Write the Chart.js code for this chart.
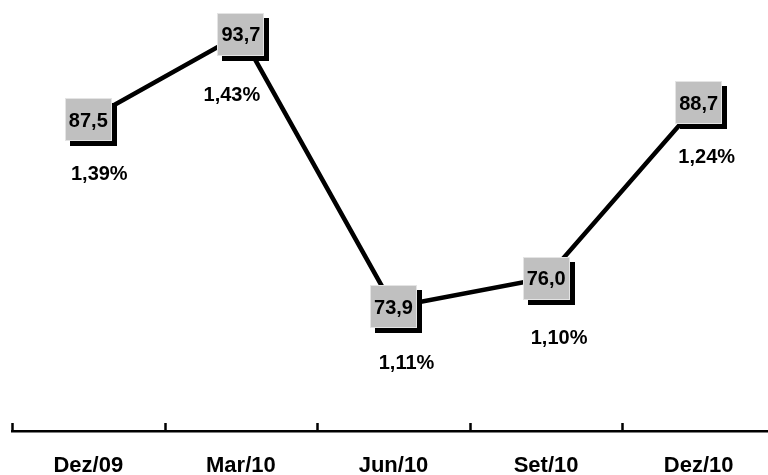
<!DOCTYPE html>
<html>
<head>
<meta charset="utf-8">
<script src="https://cdn.jsdelivr.net/npm/chart.js@4"></script>
<style>
  html, body { margin: 0; padding: 0; background: #fff; overflow: hidden; }
  #wrap { position: relative; width: 775px; height: 475px; }
</style>
</head>
<body>
<div id="wrap"><canvas id="c" width="775" height="475"></canvas></div>
<script>
// Quarterly series
const quarters = ['Dez/09', 'Mar/10', 'Jun/10', 'Set/10', 'Dez/10'];
const volumes = [87.5, 93.7, 73.9, 76.0, 88.7];
const ratios = [1.39, 1.43, 1.11, 1.10, 1.24];

const FONT = '"Liberation Sans", Arial, Helvetica, sans-serif';

const fmtValue = v => v.toFixed(1).replace('.', ',');
const fmtRatio = v => v.toFixed(2).replace('.', ',') + '%';

// Boxed value labels with a drop shadow, ratio text beneath each point,
// and short upward tick marks at the category boundaries.
const annotate = {
  id: 'annotate',
  afterDatasetsDraw(chart, args, opts) {
    const ctx = chart.ctx;
    const meta = chart.getDatasetMeta(0);
    const bw = opts.boxW, bh = opts.boxH, sh = opts.shadow;
    ctx.save();
    meta.data.forEach((pt, i) => {
      const x = pt.x, y = pt.y;
      const l = Math.round(x - bw / 2), t = Math.round(y - bh / 2);
      ctx.fillStyle = '#000';
      ctx.fillRect(l + sh, t + sh, bw, bh);
      ctx.fillStyle = '#c0c0c0';
      ctx.fillRect(l, t, bw, bh);
      ctx.strokeStyle = '#e4e4e4';
      ctx.lineWidth = 1;
      ctx.strokeRect(l + 0.5, t + 0.5, bw - 1, bh - 1);
      ctx.fillStyle = '#000';
      ctx.font = 'bold 20px ' + FONT;
      ctx.textAlign = 'center';
      ctx.textBaseline = 'middle';
      ctx.fillText(fmtValue(volumes[i]), x, y + 1.5);

      const n = opts.ratioNudge[i];
      ctx.fillText(fmtRatio(ratios[i]), x + n[0], y + n[1]);
    });
    ctx.restore();
  },
  afterDraw(chart) {
    const ctx = chart.ctx;
    const xs = chart.scales.x;
    const half = (xs.getPixelForValue(1) - xs.getPixelForValue(0)) / 2;
    const base = chart.chartArea.bottom;
    ctx.save();
    ctx.strokeStyle = '#000';
    ctx.lineWidth = 2.5;
    for (let i = 0; i <= quarters.length; i++) {
      const x = Math.round(xs.getPixelForValue(i) - half) + 0.5;
      ctx.beginPath();
      ctx.moveTo(x, base - 8);
      ctx.lineTo(x, base);
      ctx.stroke();
    }
    ctx.restore();
  }
};

new Chart(document.getElementById('c'), {
  type: 'line',
  data: {
    labels: quarters,
    datasets: [{
      data: volumes,
      borderColor: '#000',
      borderWidth: 4.5,
      pointRadius: 0,
      tension: 0,
      fill: false
    }]
  },
  options: {
    responsive: false,
    animation: false,
    devicePixelRatio: 1,
    layout: { padding: { left: 12, right: 0, top: 0, bottom: 0 } },
    plugins: {
      legend: { display: false },
      tooltip: { enabled: false },
      annotate: {
        boxW: 47, boxH: 43, shadow: 5,
        ratioNudge: [[11, 55], [-9, 61], [13, 57], [13, 60], [8, 55]]
      }
    },
    scales: {
      x: {
        offset: true,
        afterFit(scale) { scale.height = 44; },
        grid: { display: true, offset: true, drawOnChartArea: false, drawTicks: false },
        border: { display: true, color: '#000', width: 2.5 },
        ticks: {
          color: '#000',
          padding: 22,
          font: { family: FONT, size: 22, weight: 'bold' }
        }
      },
      y: {
        display: false,
        min: 64.9,
        max: 96.17
      }
    }
  },
  plugins: [annotate]
});
</script>
</body>
</html>
